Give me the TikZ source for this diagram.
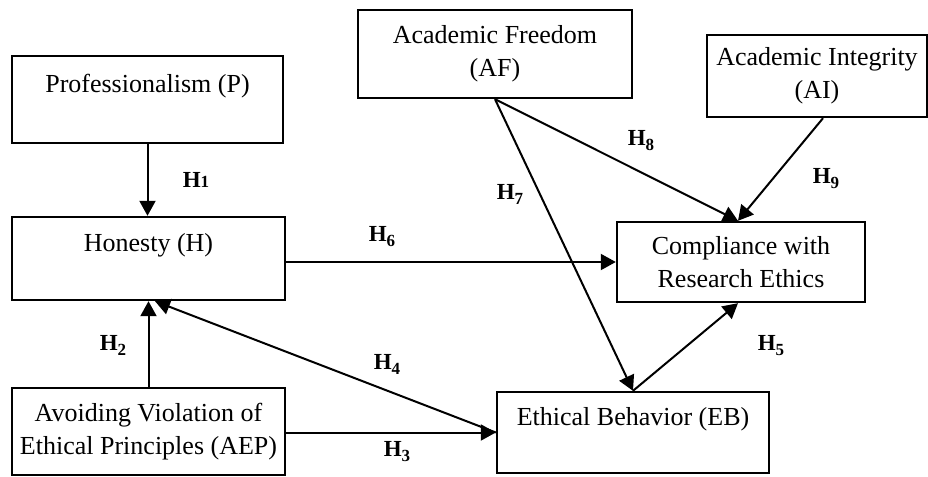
\documentclass[tikz,border=0pt]{standalone}
\usepackage{fontspec}
\setmainfont{Liberation Serif}
\usetikzlibrary{arrows.meta}
\tikzset{
 factor/.style={draw, line width=1.2pt, align=center, inner sep=0pt,
  font=\fontsize{13}{16.5}\selectfont},
 hyp/.style={-{Triangle[length=7.5pt,width=8pt]}, line width=1pt},
 hlab/.style={font=\fontsize{11.5}{13}\selectfont\bfseries, inner sep=0pt}
}
\newcommand{\hname}[1]{H\raisebox{-2.5pt}{\fontsize{8.5}{9}\selectfont #1}}

\begin{document}
\begin{tikzpicture}[x=0.5pt,y=-0.5pt]
\useasboundingbox (0,0) rectangle (928,477);
\node (P) [factor,minimum width=135.5pt,minimum height=43.5pt] at (147.5,99.5) {Professionalism (P)\\~};
\node (H) [factor,minimum width=136.5pt,minimum height=41.5pt] at (148.5,258.5) {Honesty (H)\\~};
\node (AEP) [factor,minimum width=136.5pt,minimum height=43.5pt] at (148.5,431.5) {Avoiding Violation of\\Ethical Principles (AEP)};
\node (EB) [factor,minimum width=136pt,minimum height=40.5pt] at (633,432.5) {Ethical Behavior (EB)\\~};
\node (CRE) [factor,minimum width=124pt,minimum height=40pt] at (741,262) {Compliance with\\Research Ethics};
\node (AF) [factor,minimum width=137pt,minimum height=44pt] at (495,54) {Academic Freedom\\(AF)};
\node (AI) [factor,minimum width=110pt,minimum height=41pt] at (817,76) {Academic Integrity\\(AI)};
\draw[hyp] (P.south) -- (P.south |- H.north);
\draw[hyp] (AEP.north) -- (H.south);
\draw[hyp] (AEP.east |- EB.west) -- (EB.west);
\draw[hyp] (EB.west) -- ([xshift=3.25pt]H.south);
\draw[hyp] (H.east |- CRE.west) -- (CRE.west);
\draw[hyp] (AF.south) -- (EB.north);
\draw[hyp] (AF.south) -- ([xshift=-1.5pt]CRE.north);
\draw[hyp] ([xshift=3pt]AI.south) -- ([xshift=-1.5pt]CRE.north);
\draw[hyp] (EB.north) -- ([xshift=-1.5pt]CRE.south);
\node (h1) [hlab] at (196,180) {H{\fontsize{8.5}{9}\selectfont 1}};
\node (h2) [hlab] at (113,345) {\hname{2}};
\node (h3) [hlab] at (397,452) {\hname{3}};
\node (h4) [hlab] at (387,364) {\hname{4}};
\node (h5) [hlab] at (771,346) {\hname{5}};
\node (h6) [hlab] at (382,237) {\hname{6}};
\node (h7) [hlab] at (510,194) {\hname{7}};
\node (h8) [hlab] at (641,141) {\hname{8}};
\node (h9) [hlab] at (826,179) {\hname{9}};
\end{tikzpicture}
\end{document}
